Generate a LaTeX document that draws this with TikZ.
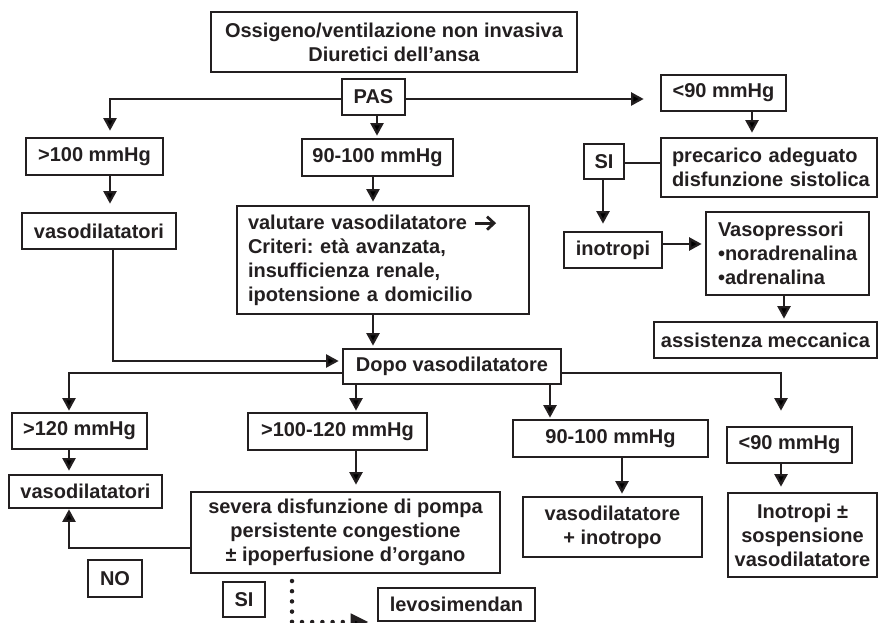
\documentclass[tikz,border=0pt]{standalone}
\usepackage{fontspec}
\setmainfont{Liberation Sans}
\usetikzlibrary{arrows.meta,calc}
\definecolor{ink}{HTML}{231F20}
\frenchspacing
\newcommand\bx[7][]{\node[box,#1,minimum width={(#4-#2)*1pt},minimum height={(#5-#3)*1pt}] (#6) at ({(#2+#4)/2},{(#3+#5)/2}) {#7};}
\newcommand\harrow{\tikz[x=1pt,y=1pt,baseline=0pt]{\draw[ink,line width=2.8pt,line cap=butt] (0,6) -- (17,6); \draw[ink,line width=2.8pt,line join=miter,line cap=butt] (12,12.5) -- (19,6) -- (12,-0.5);}}
\begin{document}
\begin{tikzpicture}[x=1pt,y=-1pt,
  font=\fontsize{20}{24}\selectfont\bfseries,
  box/.style={draw=ink,line width=2.7pt,inner sep=0pt,align=center,text=ink},
  lbox/.style={align=left,inner xsep=11pt},
  arr/.style={draw=ink,line width=2.3pt,-{Triangle[length=12.5pt,width=13pt]}},
  conn/.style={draw=ink,line width=2.3pt},
  dots/.style={draw=ink,line width=4.5pt,line cap=round,dash pattern=on 0pt off 10.2pt,-{Triangle[length=18pt,width=16pt]}}]
\useasboundingbox (0,0) rectangle (879,623);
% boxes
\bx{211}{12}{577}{72}{top}{Ossigeno/ventilazione non invasiva\\Diuretici dell’ansa}
\bx{342}{79}{405}{115}{pas}{PAS}
\bx{26}{138}{163}{175}{ga}{>100 mmHg}
\bx{302}{139}{453}{176}{gb}{90-100 mmHg}
\bx{661}{75}{786}{111}{gc}{<90 mmHg}
\bx[lbox,text width=194pt]{661}{138}{877}{197}{prec}{\mbox{precarico adeguato}\\\mbox{disfunzione sistolica}}
\bx{584}{144}{624}{179}{sia}{SI}
\bx{564}{232}{662}{268}{inot}{inotropi}
\bx[lbox,inner xsep=12pt,text width=139pt]{706}{212}{869}{295}{vaso}{Vasopressori\\\mbox{•noradrenalina}\\•adrenalina}
\bx{654}{322}{877}{358}{assi}{assistenza meccanica}
\bx{22}{213}{176}{249}{vda}{vasodilatatori}
\bx[lbox,text width=270pt]{237}{206}{529}{314}{valu}{valutare vasodilatatore \harrow\\Criteri: età avanzata,\\insufficienza renale,\\ipotensione a domicilio}
\bx{343}{349}{561}{384}{dopo}{Dopo vasodilatatore}
\bx{12}{413}{147}{449}{gd}{>120 mmHg}
\bx{248}{413}{427}{450}{ge}{>100-120 mmHg}
\bx{513}{420}{708}{457}{gf}{90-100 mmHg}
\bx{727}{427}{852}{463}{gg}{<90 mmHg}
\bx{9}{475}{162}{508}{vdb}{vasodilatatori}
\bx{191}{492}{500}{573}{sev}{severa disfunzione di pompa\\persistente congestione\\± ipoperfusione d’organo}
\bx{523}{497}{702}{557}{vdi}{vasodilatatore\\+ inotropo}
\bx{728}{493}{877}{577}{inob}{Inotropi ±\\sospensione\\vasodilatatore}
\bx{88}{560}{142}{597}{no}{NO}
\bx{223}{582}{265}{617}{sib}{SI}
\bx{378}{588}{535}{621}{levo}{levosimendan}
% lanes
\coordinate (xA) at (110,99);
\coordinate (xB) at (113,361);
\coordinate (xC) at (377,0);
\coordinate (xD) at (373,0);
\coordinate (xE) at (69,373);
\coordinate (xF) at (356,0);
\coordinate (xG) at (550,0);
\coordinate (xH) at (781,373);
\coordinate (xI) at (622,0);
\coordinate (xJ) at (752,0);
\coordinate (xK) at (603,0);
\coordinate (yL) at (0,244);
\coordinate (xM) at (784,0);
\coordinate (yS) at (0,163);
\coordinate (ySev) at (69,548);
\coordinate (pd1) at (292,581);
\coordinate (pd2) at (292,622);
% connectors
\draw[arr,shorten >=6pt] (pas.west |- xA) -| (xA |- ga.north);
\draw[arr,shorten >=16pt] (pas.east |- xA) -- (xA -| gc.west);
\draw[arr,shorten >=2pt] (xC |- pas.south) -- (xC |- gb.north);
\draw[arr,shorten >=8pt] (xA |- ga.south) -- (xA |- vda.north);
\draw[arr,shorten >=3pt] (xD |- gb.south) -- (xD |- valu.north);
\draw[arr,shorten >=3pt] (xB |- vda.south) |- (xB -| dopo.west);
\draw[arr,shorten >=2pt] (xD |- valu.south) -- (xD |- dopo.north);
\draw[arr,shorten >=1pt] (dopo.west |- xE) -| (xE |- gd.north);
\draw[arr,shorten >=1pt] (xF |- dopo.south) -- (xF |- ge.north);
\draw[arr,shorten >=1pt] (xG |- dopo.south) -- (xG |- gf.north);
\draw[arr,shorten >=15pt] (dopo.east |- xH) -| (xH |- gg.north);
\draw[arr,shorten >=3pt] (xE |- gd.south) -- (xE |- vdb.north);
\draw[arr,shorten >=6pt] (xF |- ge.south) -- (xF |- sev.north);
\draw[arr,shorten >=2pt] (xI |- gf.south) -- (xI |- vdi.north);
\draw[arr,shorten >=5pt] (xH |- gg.south) -- (xH |- inob.north);
\draw[arr] (sev.west |- ySev) -| (xE |- vdb.south);
\draw[arr,shorten >=4pt] (xJ |- gc.south) -- (xJ |- prec.north);
\draw[conn] (sia.east |- yS) -- (prec.west |- yS);
\draw[arr,shorten >=7pt] (xK |- sia.south) -- (xK |- inot.north);
\draw[arr,shorten >=3pt] (inot.east |- yL) -- (vaso.west |- yL);
\draw[arr,shorten >=2pt] (xM |- vaso.south) -- (xM |- assi.north);
\draw[dots,shorten >=8pt] (pd1) -- (pd2) -- (pd2 -| levo.west);
\end{tikzpicture}
\end{document}
